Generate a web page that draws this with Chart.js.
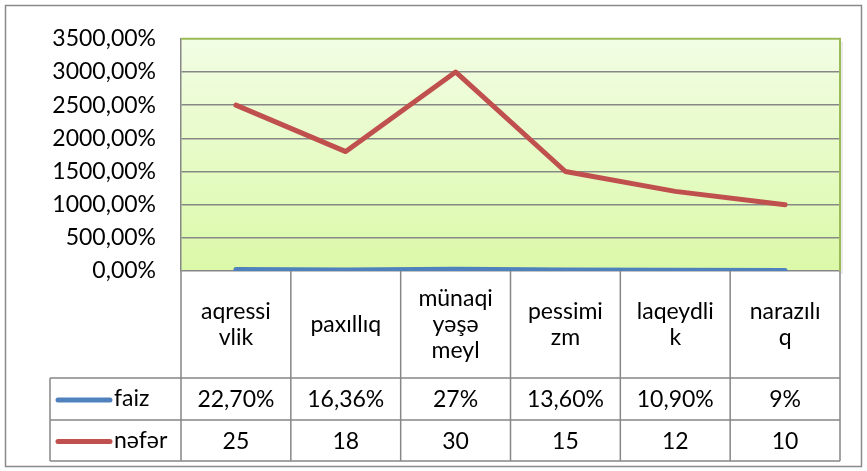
<!DOCTYPE html>
<html>
<head>
<meta charset="utf-8">
<script src="https://cdn.jsdelivr.net/npm/chart.js@4"></script>
<style>
  html, body { margin: 0; padding: 0; background: #fff; }
  #wrap { width: 867px; height: 471px; }
</style>
</head>
<body>
<div id="wrap"><canvas id="c" width="867" height="471"></canvas></div>
<script>
// ---- data ----
const categories = [["aqressi","vlik"], ["paxıllıq"], ["münaqi","yəşə","meyl"], ["pessimi","zm"], ["laqeydli","k"], ["narazılı","q"]];
const faizValues = [0.227, 0.1636, 0.27, 0.136, 0.109, 0.09];
const neferValues = [25, 18, 30, 15, 12, 10];
const faizLabels = ["22,70%", "16,36%", "27%", "13,60%", "10,90%", "9%"];
const neferLabels = ["25", "18", "30", "15", "12", "10"];
const seriesNames = ["faiz", "nəfər"];
const yTicks = [0, 5, 10, 15, 20, 25, 30, 35];

const FONT = "Lato";
const FS = 23;
const BLUE = "#4F81BD", RED = "#C0504D", GRID = "#878787", GREEN = "#9BBB59";

const tablePlugin = {
  id: "tablePlugin",
  beforeDraw(chart) {
    const ctx = chart.ctx, a = chart.chartArea;
    ctx.save();
    ctx.fillStyle = "#fff";
    ctx.fillRect(0, 0, chart.width, chart.height);
    ctx.fillStyle = "rgba(0,0,0,0.08)";
    ctx.fillRect(a.right, a.top + 3, 3, a.height);
    const g = ctx.createLinearGradient(0, a.top, 0, a.bottom);
    g.addColorStop(0, "#F2FDE4");
    g.addColorStop(1, "#DBF9A8");
    ctx.fillStyle = g;
    ctx.fillRect(a.left, a.top, a.width, a.height);
    ctx.restore();
  },
  afterDatasetsDraw(chart) {
    const ctx = chart.ctx, a = chart.chartArea;
    ctx.save();
    ctx.strokeStyle = GREEN; ctx.lineWidth = 2;
    ctx.beginPath();
    ctx.moveTo(a.left, a.top); ctx.lineTo(a.right, a.top); ctx.lineTo(a.right, a.bottom);
    ctx.stroke();
    ctx.strokeStyle = "#8a8a8a"; ctx.lineWidth = 1.5;
    ctx.strokeRect(5.5, 5.5, 856, 461);

    const n = categories.length;
    const w = a.width / n;
    const yCatTop = a.bottom, yRow1 = 378, yRow2 = 420, yRow3 = 461;
    const legLeft = 50;
    ctx.strokeStyle = GRID; ctx.lineWidth = 1.5;
    ctx.beginPath();
    for (let i = 0; i <= n; i++) {
      const x = a.left + i * w;
      ctx.moveTo(x, yCatTop); ctx.lineTo(x, yRow3);
    }
    ctx.moveTo(legLeft, yRow1); ctx.lineTo(legLeft, yRow3);
    [yRow1, yRow2, yRow3].forEach(y => { ctx.moveTo(legLeft, y); ctx.lineTo(a.right, y); });
    ctx.stroke();

    ctx.fillStyle = "#000";
    ctx.font = FS + "px " + FONT;
    ctx.textAlign = "center";
    ctx.textBaseline = "middle";
    const lh = 26;
    categories.forEach((lines, i) => {
      const cx = chart.scales.x.getPixelForValue(i);
      const cy = (yCatTop + yRow1) / 2;
      lines.forEach((t, k) => {
        ctx.fillText(t, cx, cy + (k - (lines.length - 1) / 2) * lh);
      });
    });
    const rows = [[faizLabels, BLUE, (yRow1 + yRow2) / 2], [neferLabels, RED, (yRow2 + yRow3) / 2]];
    rows.forEach(([labels, col, cy], r) => {
      labels.forEach((t, i) => {
        ctx.fillText(t, chart.scales.x.getPixelForValue(i), cy + 1);
      });
      ctx.strokeStyle = col; ctx.lineWidth = 5; ctx.lineCap = "round";
      ctx.beginPath(); ctx.moveTo(58, cy + 1); ctx.lineTo(110, cy + 1); ctx.stroke();
      ctx.textAlign = "left";
      ctx.fillText(seriesNames[r], 114, cy);
      ctx.textAlign = "center";
    });
    ctx.restore();
  }
};

new Chart(document.getElementById("c"), {
  type: "line",
  data: {
    labels: categories.map(c => c.join("")),
    datasets: [
      { label: seriesNames[0], data: faizValues, borderColor: BLUE, borderWidth: 5, pointRadius: 0, tension: 0, borderCapStyle: "round", borderJoinStyle: "round" },
      { label: seriesNames[1], data: neferValues, borderColor: RED, borderWidth: 5, pointRadius: 0, tension: 0, borderCapStyle: "round", borderJoinStyle: "round" }
    ]
  },
  options: {
    responsive: false,
    animation: false,
    devicePixelRatio: 1,
    layout: { padding: { left: 0, top: 32, right: 27, bottom: 200 } },
    plugins: { legend: { display: false }, tooltip: { enabled: false } },
    scales: {
      x: { type: "category", offset: true, display: false },
      y: {
        min: 0, max: 35,
        afterFit(s) { s.width = 181; },
        afterBuildTicks(s) { s.ticks = yTicks.map(v => ({ value: v })); },
        ticks: {
          padding: 25,
          color: "#000",
          font: { family: FONT, size: FS },
          callback: v => (v * 100).toFixed(2).replace(".", ",") + "%"
        },
        grid: { color: ctx => ctx.tick && ctx.tick.value === 35 ? "rgba(0,0,0,0)" : GRID, lineWidth: 1.5, drawTicks: false },
        border: { display: true, color: GRID, width: 1.5 }
      }
    }
  },
  plugins: [tablePlugin]
});
</script>
</body>
</html>
